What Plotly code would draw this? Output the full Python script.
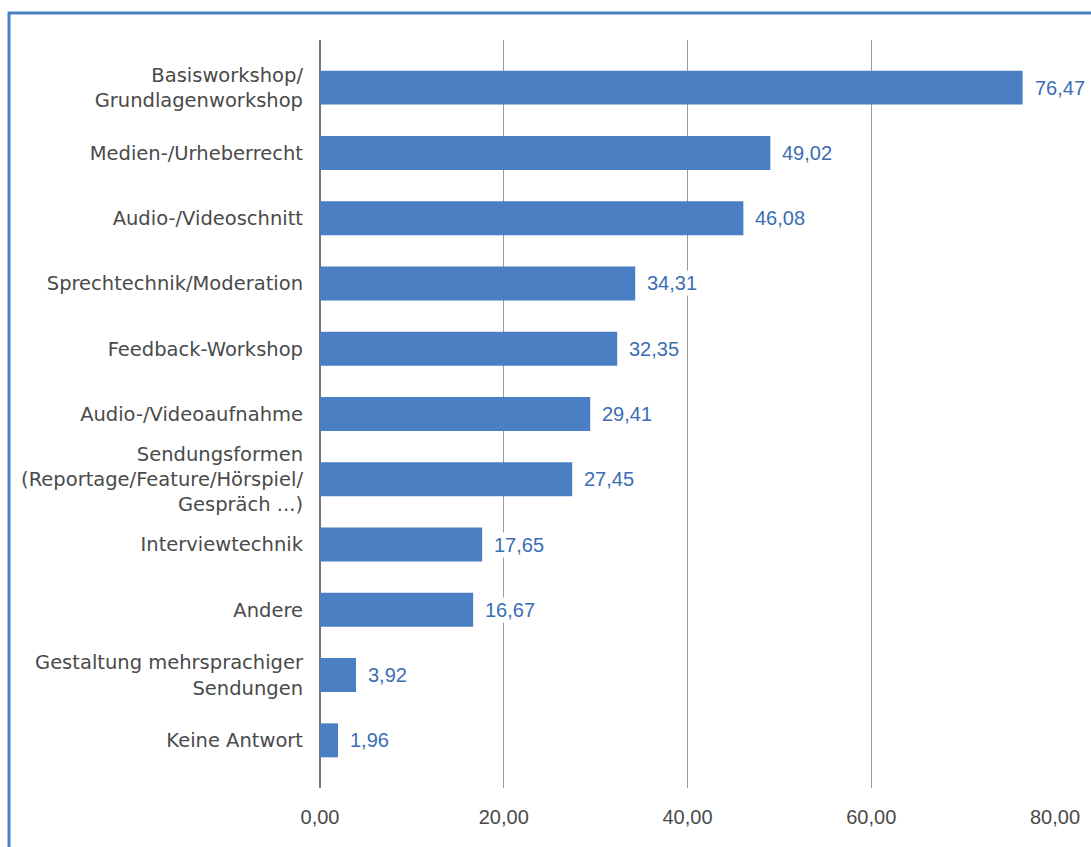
import plotly.graph_objects as go

categories = [
    "Basisworkshop/<br>Grundlagenworkshop",
    "Medien-/Urheberrecht",
    "Audio-/Videoschnitt",
    "Sprechtechnik/Moderation",
    "Feedback-Workshop",
    "Audio-/Videoaufnahme",
    "Sendungsformen<br>(Reportage/Feature/Hörspiel/<br>Gespräch ...)",
    "Interviewtechnik",
    "Andere",
    "Gestaltung mehrsprachiger<br>Sendungen",
    "Keine Antwort",
]
values = [76.47, 49.02, 46.08, 34.31, 32.35, 29.41, 27.45, 17.65, 16.67, 3.92, 1.96]
tick_vals = [0, 20, 40, 60, 80]
tick_text = ["0,00", "20,00", "40,00", "60,00", "80,00"]

def de(v):
    return f"{v:.2f}".replace(".", ",")

BAR = "#4a7fc3"
LABEL = "#3a6db4"
TXT = "#4a4a4a"
FONT = "Liberation Sans, Arial, sans-serif"
CATFONT = "DejaVu Sans, sans-serif"

fig = go.Figure()
fig.add_trace(go.Bar(
    x=values, y=categories, orientation="h",
    marker=dict(color=BAR, line=dict(width=0)),
    width=0.52, hoverinfo="skip",
))

for c, v in zip(categories, values):
    fig.add_annotation(
        x=v, y=c, xref="x", yref="y", text=de(v), showarrow=False,
        xanchor="left", xshift=10, bgcolor="white", borderpad=1,
        font=dict(family=FONT, size=20, color=LABEL),
    )

L, R, T, B = 320, 36, 40, 59
W, H = 1091, 847
pw, ph = W - L - R, H - T - B
x0 = (9 - L) / pw
y1 = 1 + (T - 13) / ph
fig.add_shape(type="rect", xref="paper", yref="paper",
              x0=x0, x1=1 + (R + 20) / pw, y0=-(B + 20) / ph, y1=y1,
              line=dict(color="#4a80c4", width=3), fillcolor="rgba(0,0,0,0)",
              layer="above")

fig.update_layout(
    width=W, height=H,
    margin=dict(l=L, r=R, t=T, b=B, pad=0),
    paper_bgcolor="white", plot_bgcolor="white",
    showlegend=False,
    font=dict(family=FONT, size=20, color=TXT),
    xaxis=dict(
        range=[0, 80], tickvals=tick_vals, ticktext=tick_text,
        showgrid=True, gridcolor="#9a9a9a", gridwidth=1,
        zeroline=True, zerolinecolor="#777777", zerolinewidth=2,
        showline=False, ticks="", ticklabelstandoff=15,
        tickfont=dict(size=20, color=TXT), fixedrange=True,
    ),
    yaxis=dict(
        categoryorder="array", categoryarray=categories,
        range=[len(categories) - 1 + 0.73, -0.73],
        showgrid=False, zeroline=False, showline=False, ticks="",
        ticklabelstandoff=16,
        tickfont=dict(family=CATFONT, size=19.5, color=TXT), fixedrange=True,
    ),
)

fig.write_html("out.html")
